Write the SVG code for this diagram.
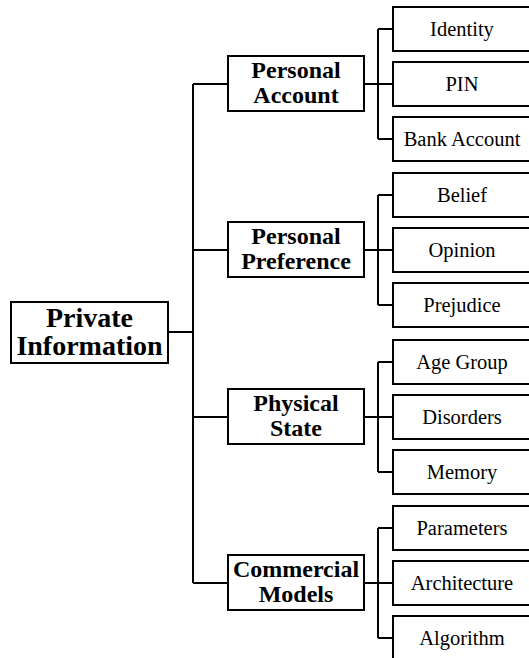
<svg xmlns="http://www.w3.org/2000/svg" width="529" height="658" viewBox="0 0 529 658">
<style>
.box{fill:#fff;stroke:#000;stroke-width:2}
.ln{fill:none;stroke:#000;stroke-width:2}
text{font-family:'Liberation Serif','Times New Roman',Times,'DejaVu Serif',serif;text-anchor:middle}
.root{font-weight:bold;font-size:28px}
.mid{font-weight:bold;font-size:24px}
.leaf{font-size:20.5px}
</style>
<rect width="529" height="658" fill="#fff"/>
<g id="connectors" class="ln">
<path d="M168 332H193M193 84V583M193 84H228M193 250H228M193 417H228M193 583H228"/>
<path d="M364 84H378M378 29V139M378 29H393M378 84H393M378 139H393"/>
<path d="M364 250H378M378 195V305M378 195H393M378 250H393M378 305H393"/>
<path d="M364 417H378M378 362V472M378 362H393M378 417H393M378 472H393"/>
<path d="M364 583H378M378 528V638M378 528H393M378 583H393M378 638H393"/>
</g>
<g id="root"><rect class="box" x="11" y="302" width="157" height="61"/><text class="root" x="89.5" y="327">Private</text><text class="root" x="89.5" y="355">Information</text></g>
<g id="personal-account"><rect class="box" x="228" y="56" width="136" height="55"/><text class="mid" x="296" y="78">Personal</text><text class="mid" x="296" y="103">Account</text></g>
<g id="personal-preference"><rect class="box" x="228" y="222" width="136" height="55"/><text class="mid" x="296" y="244">Personal</text><text class="mid" x="296" y="269">Preference</text></g>
<g id="physical-state"><rect class="box" x="228" y="389" width="136" height="55"/><text class="mid" x="296" y="411">Physical</text><text class="mid" x="296" y="436">State</text></g>
<g id="commercial-models"><rect class="box" x="228" y="555" width="136" height="55"/><text class="mid" x="296" y="577">Commercial</text><text class="mid" x="296" y="602">Models</text></g>
<g id="identity"><rect class="box" x="393" y="7" width="140" height="44"/><text class="leaf" x="462" y="36">Identity</text></g>
<g id="pin"><rect class="box" x="393" y="62" width="140" height="44"/><text class="leaf" x="462" y="91">PIN</text></g>
<g id="bank-account"><rect class="box" x="393" y="117" width="140" height="44"/><text class="leaf" x="462" y="146">Bank Account</text></g>
<g id="belief"><rect class="box" x="393" y="173" width="140" height="44"/><text class="leaf" x="462" y="202">Belief</text></g>
<g id="opinion"><rect class="box" x="393" y="228" width="140" height="44"/><text class="leaf" x="462" y="257">Opinion</text></g>
<g id="prejudice"><rect class="box" x="393" y="283" width="140" height="44"/><text class="leaf" x="462" y="312">Prejudice</text></g>
<g id="age-group"><rect class="box" x="393" y="340" width="140" height="44"/><text class="leaf" x="462" y="369">Age Group</text></g>
<g id="disorders"><rect class="box" x="393" y="395" width="140" height="44"/><text class="leaf" x="462" y="424">Disorders</text></g>
<g id="memory"><rect class="box" x="393" y="450" width="140" height="44"/><text class="leaf" x="462" y="479">Memory</text></g>
<g id="parameters"><rect class="box" x="393" y="506" width="140" height="44"/><text class="leaf" x="462" y="535">Parameters</text></g>
<g id="architecture"><rect class="box" x="393" y="561" width="140" height="44"/><text class="leaf" x="462" y="590">Architecture</text></g>
<g id="algorithm"><rect class="box" x="393" y="616" width="140" height="44"/><text class="leaf" x="462" y="645">Algorithm</text></g>
</svg>
